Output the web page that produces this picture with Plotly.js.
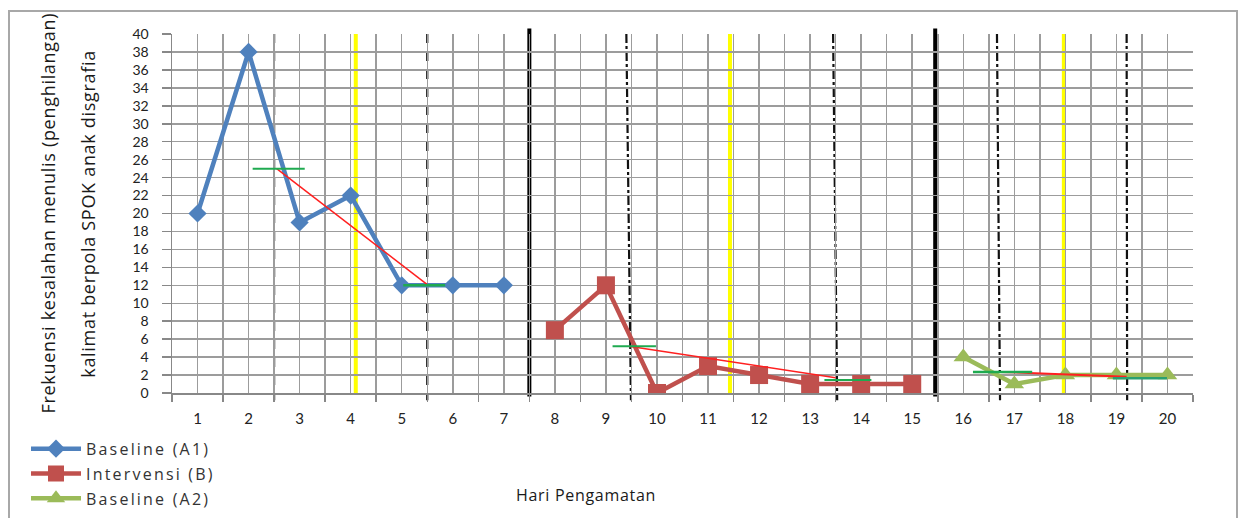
<!DOCTYPE html>
<html>
<head>
<meta charset="utf-8">
<script src="https://cdn.plot.ly/plotly-3.0.1.min.js"></script>
<style>
  html, body { margin: 0; padding: 0; background: #fff; }
  #chart { position: absolute; left: 0; top: 0; width: 1239px; height: 518px; }
  #frame { position: absolute; left: 8px; top: 10px; width: 1230px; height: 530px;
           border: 2px solid #a8a8a8; box-sizing: border-box; pointer-events: none; }
  .annotation-text { letter-spacing: 0.7px; }
  .legendtext { letter-spacing: 2.2px; }
</style>
</head>
<body>
<div id="chart"></div>
<div id="frame"></div>
<script>
// Observation days and error counts for each phase
const daysA1 = [1, 2, 3, 4, 5, 6, 7];
const errorsA1 = [20, 38, 19, 22, 12, 12, 12];
const daysB = [8, 9, 10, 11, 12, 13, 14, 15];
const errorsB = [7, 12, 0, 3, 2, 1, 1, 1];
const daysA2 = [16, 17, 18, 19, 20];
const errorsA2 = [4, 1, 2, 2, 2];

// Tick labels of the day axis
const dayTicks = [1, 2, 3, 4, 5, 6, 7, 8, 9, 10, 11, 12, 13, 14, 15, 16, 17, 18, 19, 20];
const dayLabels = dayTicks.map(String);

// Trend lines (red) and mid-level marks (green) per phase
const trendA1X = [2.55, 5.52], trendA1Y = [25, 12];
const midA1aX = [2.08, 3.1], midA1aY = [25, 25];
const midA1bX = [5.03, 5.85], midA1bY = [12, 12];
const trendBX = [9.45, 13.5], trendBY = [5.2, 1.7];
const midBaX = [9.13, 9.98], midBaY = [5.2, 5.2];
const midBbX = [13.28, 14.2], midBbY = [1.45, 1.45];
const trendA2X = [16.72, 19.2], trendA2Y = [2.35, 1.8];
const midA2aX = [16.19, 17.35], midA2aY = [2.35, 2.35];
const midA2bX = [18.93, 19.99], midA2bY = [1.65, 1.65];

// Vertical guide lines: phase boundaries, quarter splits, phase middles
const phaseBoundX = [7.5, 15.45];
const splitTopX = [2.5, 5.5, 9.4, 13.45, 16.66, 19.2];
const splitBotX = [2.5, 5.5, 9.49, 13.53, 16.72, 19.21];
const middleX = [4.1, 11.43, 17.97];

const FONT = 'Lato, "Open Sans", sans-serif';
const TITLE_FONT = '"Open Sans", Lato, sans-serif';
const GRID = '#9c9c9c';

function dataTrace(x, y, name, color, symbol, size) {
  return {
    x: x, y: y, name: name, type: 'scatter', mode: 'lines+markers',
    line: { color: color, width: 4.5 },
    marker: { color: color, symbol: symbol, size: size },
    legendgroup: name
  };
}
function guideTrace(x, y, color, width) {
  return {
    x: x, y: y, type: 'scatter', mode: 'lines', showlegend: false,
    hoverinfo: 'skip', line: { color: color, width: width }
  };
}

const traces = [
  dataTrace(daysA1, errorsA1, 'Baseline (A1)', '#4f81bd', 'diamond', 14),
  dataTrace(daysB, errorsB, 'Intervensi (B)', '#c0504d', 'square', 18),
  dataTrace(daysA2, errorsA2, 'Baseline (A2)', '#9bbb59', 'triangle-up', 17),
  guideTrace(trendA1X, trendA1Y, '#ff2020', 1.5),
  guideTrace(midA1aX, midA1aY, '#1faa50', 2),
  guideTrace(midA1bX, midA1bY, '#1faa50', 2.5),
  guideTrace(trendBX, trendBY, '#ff2020', 1.5),
  guideTrace(midBaX, midBaY, '#1faa50', 2),
  guideTrace(midBbX, midBbY, '#1faa50', 2),
  guideTrace(trendA2X, trendA2Y, '#ff2020', 2),
  guideTrace(midA2aX, midA2aY, '#1faa50', 2.5),
  guideTrace(midA2bX, midA2bY, '#2aa070', 2.5)
];

const shapes = [];
middleX.forEach(function (x) {
  shapes.push({ type: 'line', layer: 'between', xref: 'x', yref: 'paper',
    x0: x, x1: x, y0: 0, y1: 1, line: { color: '#ffff00', width: 4 } });
});
splitTopX.forEach(function (x, i) {
  shapes.push({ type: 'line', layer: 'between', xref: 'x', yref: 'paper',
    x0: x, x1: splitBotX[i], y0: 1, y1: -0.02,
    line: { color: '#111', width: 2.2, dash: i < 2 ? 'dash' : 'dashdot' } });
});
phaseBoundX.forEach(function (x) {
  shapes.push({ type: 'line', layer: 'between', xref: 'x', yref: 'paper',
    x0: x, x1: x, y0: -0.01, y1: 1.015, line: { color: '#000', width: 4 } });
});

const layout = {
  width: 1239, height: 518,
  margin: { l: 172, r: 46, t: 34, b: 125, autoexpand: false },
  paper_bgcolor: '#fff', plot_bgcolor: '#fff',
  font: { family: FONT, color: '#222' },
  showlegend: true,
  legend: {
    x: -0.143, xanchor: 'left', y: -0.108, yanchor: 'top',
    font: { family: TITLE_FONT, size: 16, color: '#333' },
    traceorder: 'grouped', tracegroupgap: 1, itemwidth: 50,
    bgcolor: 'rgba(0,0,0,0)'
  },
  xaxis: {
    range: [0.5, 20.5], tickmode: 'array', tickvals: dayTicks, ticktext: dayLabels,
    ticks: '', showgrid: true, gridcolor: GRID, gridwidth: 1.5,
    showline: true, linecolor: '#888', linewidth: 1.5,
    ticklabelstandoff: 11, automargin: false,
    tickfont: { family: FONT, size: 15, color: '#222' },
    minor: { tickmode: 'linear', tick0: 0.5, dtick: 1, ticks: 'outside', ticklen: 7,
             tickcolor: '#888', tickwidth: 1.5, showgrid: true, gridcolor: GRID, gridwidth: 1.5 },
    zeroline: false, fixedrange: true
  },
  yaxis: {
    range: [0, 40], dtick: 2, tick0: 0, ticks: 'outside', ticklen: 9,
    tickcolor: '#888', tickwidth: 1.5,
    showgrid: true, gridcolor: GRID, gridwidth: 1.5,
    showline: true, linecolor: '#888', linewidth: 1.5,
    ticklabelstandoff: 10, automargin: false,
    tickfont: { family: FONT, size: 14, color: '#222' },
    zeroline: false, fixedrange: true
  },
  shapes: shapes,
  annotations: [
    { text: 'Frekuensi kesalahan menulis (penghilangan)', textangle: -90,
      xref: 'paper', yref: 'paper', x: -0.1224, xanchor: 'center', y: 0.5, yanchor: 'middle',
      showarrow: false, font: { family: TITLE_FONT, size: 18, color: '#1a1a1a' } },
    { text: 'kalimat berpola SPOK anak disgrafia', textangle: -90,
      xref: 'paper', yref: 'paper', x: -0.083, xanchor: 'center', y: 0.5, yanchor: 'middle',
      showarrow: false, font: { family: TITLE_FONT, size: 18, color: '#1a1a1a' } },
    { text: 'Hari Pengamatan', xref: 'paper', yref: 'paper',
      x: 0.405, xanchor: 'center', y: -0.285, yanchor: 'middle', showarrow: false,
      font: { family: TITLE_FONT, size: 16, color: '#1a1a1a' } }
  ]
};

Plotly.newPlot('chart', traces, layout, { displayModeBar: false, staticPlot: true });
</script>
</body>
</html>
